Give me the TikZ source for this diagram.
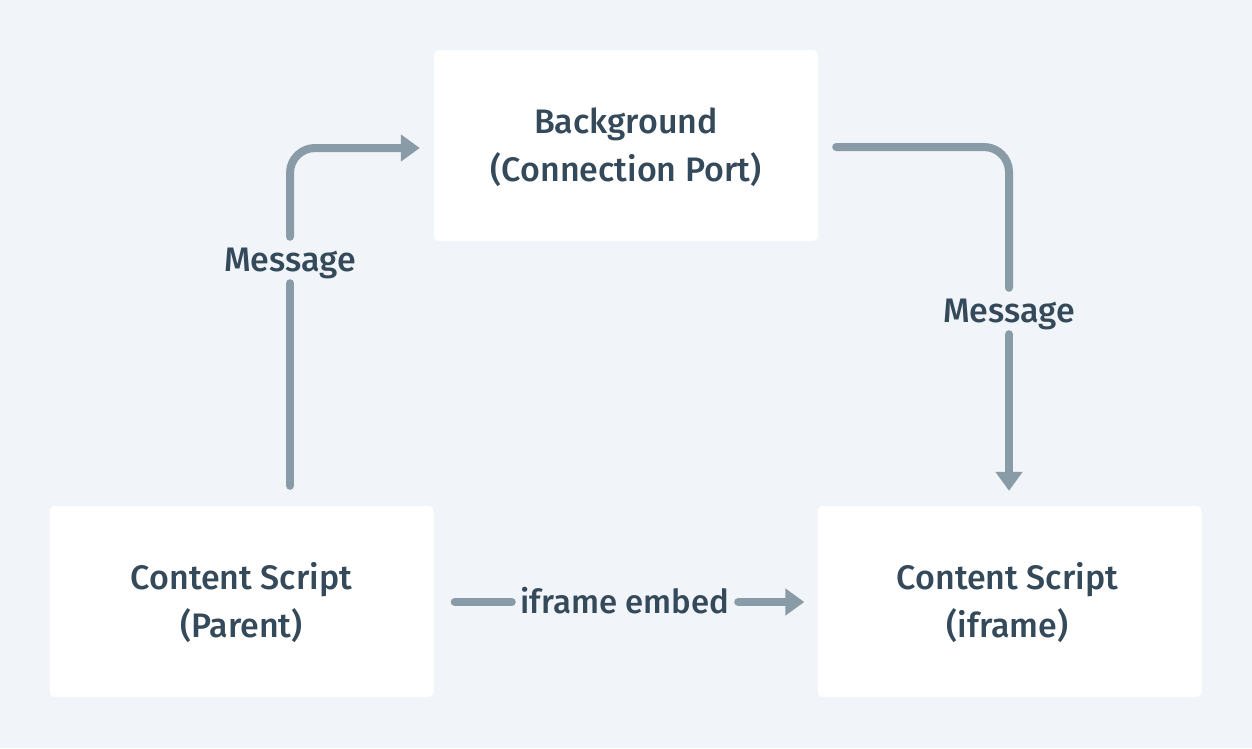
\documentclass[tikz,border=0pt]{standalone}
\usepackage{fontspec}
\setmainfont{Fira Sans}[UprightFont=* Medium]
\usetikzlibrary{arrows.meta}
\definecolor{bgc}{HTML}{F1F4F8}
\definecolor{txt}{HTML}{34495A}
\definecolor{arr}{HTML}{8A9BA8}
\begin{document}
\begin{tikzpicture}[x=1pt,y=-1pt,
  box/.style={fill=white,rounded corners=5pt,minimum width=384pt,minimum height=191pt,inner sep=0pt},
  btxt/.style={text=txt,align=center,inner sep=0pt,font=\fontsize{34}{48}\selectfont},
  lbl/.style={text=txt,inner sep=0pt,font=\fontsize{34}{36}\selectfont,text height=23pt,text depth=0pt},
  conn/.style={draw=arr,line width=8pt,line cap=round,rounded corners=25pt},
  tip/.style={-{Triangle[length=19pt,width=26pt]}}]
\fill[bgc] (0,0) rectangle (1252,748);
\node[box] (bg) at (626,145.5) {};
\node[box] (parent) at (241.5,601.5) {};
\node[box] (iframe) at (1009.5,601.5) {};
\node[btxt] (bgt) at ([yshift=-2pt]bg.center) {Background\\(Connection Port)};
\node[btxt] (parentt) at ([yshift=-1pt]parent.center) {Content Script\\(Parent)};
\node[btxt] (iframet) at ([xshift=-2pt,yshift=-1pt]iframe.center) {Content Script\\(iframe)};
\node[lbl,minimum height=46pt] (msg1) at (290,260) {Message};
\node[lbl,minimum height=46pt] (msg2) at (1009,311) {Message};
\node[lbl,minimum width=226pt,font=\fontsize{33}{36}\selectfont] (embed) at (625,602) {iframe embed};
% left
\draw[conn] ([yshift=20pt]parent.north -| msg1) -- (msg1.south);
\draw[conn,tip] (msg1.north) |- ([xshift=-14pt,yshift=-2.5pt]bg.west);
% right
\draw[conn] ([xshift=18pt,yshift=-1.5pt]bg.east) -| (msg2.north);
\draw[conn,tip] (msg2.south) -- ([yshift=15pt]iframe.north -| msg2);
% bottom
\draw[conn] ([xshift=21pt,yshift=-0.5pt]parent.east) -- (embed.west);
\draw[conn,tip] (embed.east) -- ([xshift=-13pt,yshift=-0.5pt]iframe.west);
\end{tikzpicture}
\end{document}
